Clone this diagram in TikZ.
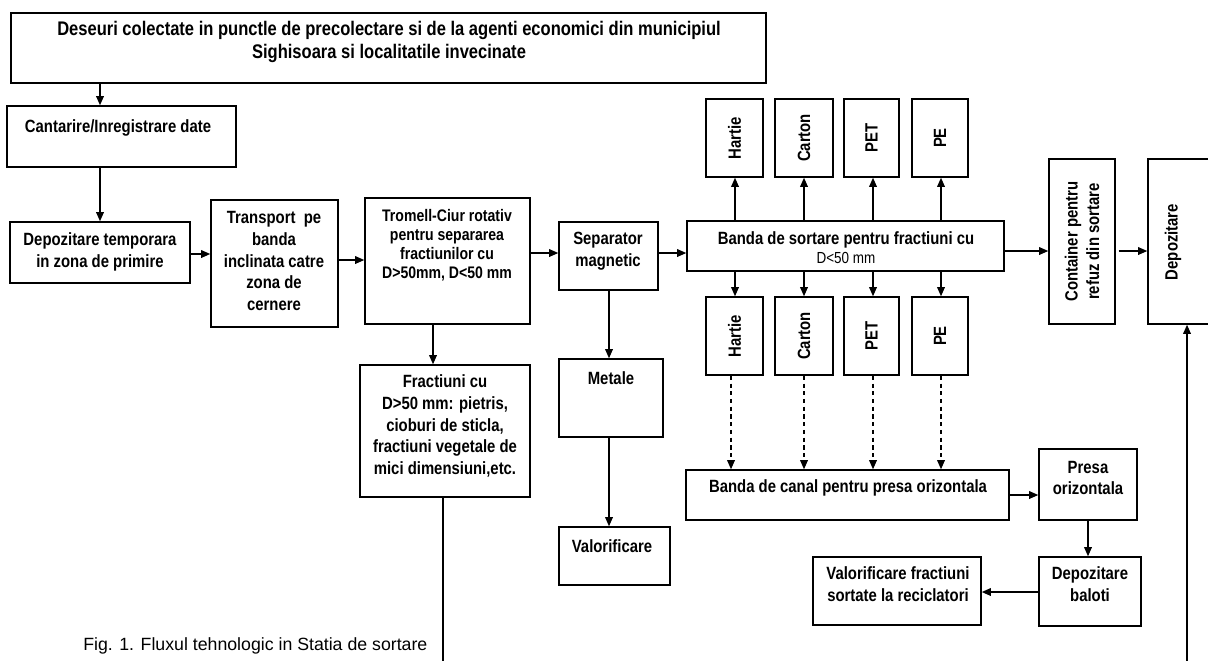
\documentclass[tikz,border=0pt]{standalone}
\usepackage{fontspec}
\setmainfont{Liberation Sans}
\newfontfamily\narrow{Liberation Sans}[FakeStretch=0.84]
\usetikzlibrary{arrows.meta,fit}

\tikzset{
  box/.style={draw, line width=1.1pt, inner sep=0pt},
  lbl/.style={font=\narrow\bfseries\fontsize{12.6}{15.4}\selectfont, align=center, inner sep=0pt},
  biglbl/.style={lbl, font=\narrow\bfseries\fontsize{14}{16.4}\selectfont},
  tightlbl/.style={lbl, font=\narrow\bfseries\fontsize{11.9}{13.6}\selectfont},
  small/.style={font=\narrow\fontsize{11.4}{13}\selectfont, inner sep=0pt},
  caption/.style={font=\fontsize{12.6}{15}\selectfont, inner sep=0pt, anchor=base west},
  line/.style={line width=0.9pt},
  arr/.style={line, -{Triangle[length=6.5pt,width=5.5pt]}},
  dsh/.style={arr, dash pattern=on 3pt off 2.5pt},
}

\begin{document}
\begin{tikzpicture}[x=0.025cm, y=-0.025cm]
\useasboundingbox (0,0) rectangle (1208,660);
\clip (0,0) rectangle (1208,660);

% ---- boxes ----
\node[box, fit={(11,13) (766,83)}] (top) {};
\node[box, fit={(7,106) (236,167)}] (cant) {};
\node[box, fit={(10,222) (190,283)}] (deptemp) {};
\node[box, fit={(211,200) (338,327)}] (transport) {};
\node[box, fit={(365,198) (530,324)}] (tromell) {};
\node[box, fit={(559,222) (658,290)}] (sep) {};
\node[box, fit={(687,221) (1004,271)}] (banda) {};
\node[box, fit={(360,365) (530,497)}] (fract) {};
\node[box, fit={(559,359) (663,437)}] (metale) {};
\node[box, fit={(559,527) (670,585)}] (valor) {};

\node[box, fit={(706,99) (763,177)}] (hu) {};
\node[box, fit={(775,99) (833,177)}] (cu) {};
\node[box, fit={(844,99) (899,177)}] (pu) {};
\node[box, fit={(912,99) (968,177)}] (eu) {};
\node[box, fit={(706,297) (763,375)}] (hd) {};
\node[box, fit={(775,297) (833,375)}] (cd) {};
\node[box, fit={(844,297) (899,375)}] (pd) {};
\node[box, fit={(912,297) (968,375)}] (ed) {};

\node[box, fit={(1049,159) (1115,324)}] (cont) {};
\node[box, fit={(1148,159) (1222,324)}] (dep) {};

\node[box, fit={(686,470) (1009,520)}] (canal) {};
\node[box, fit={(1039,449) (1137,520)}] (presa) {};
\node[box, fit={(1039,557) (1141,626)}] (depbal) {};
\node[box, fit={(813,557) (981,625)}] (valfr) {};

% ---- texts ----
\node[biglbl] (top-t) at (389,42) {Deseuri colectate in punctle de precolectare si de la agenti economici din municipiul\\Sighisoara si localitatile invecinate};
\node[lbl] (cant-t) at (118,128) {Cantarire/Inregistrare date};
\node[lbl] (deptemp-t) at (100,252) {Depozitare temporara\\in zona de primire};
\node[lbl] (transport-t) at (274,261) {Transport~~pe\\banda\\inclinata catre\\zona de\\cernere};
\node[tightlbl] (tromell-t) at (447,245) {Tromell-Ciur rotativ\\pentru separarea\\fractiunilor cu\\D>50mm, D<50 mm};
\node[lbl] (sep-t) at (608,251) {Separator\\magnetic};
\node[lbl] (banda-t) at (846,240) {Banda de sortare pentru fractiuni cu};
\node[small] (banda-t2) at (846,258) {D<50 mm};
\node[lbl] (fract-t) at (445,426) {Fractiuni cu\\D>50 mm: pietris,\\cioburi de sticla,\\fractiuni vegetale de\\mici dimensiuni,etc.};
\node[lbl] (metale-t) at (611,378) {Metale};
\node[lbl] (valor-t) at (612,546) {Valorificare};

\node[lbl, rotate=90] (hu-t) at (hu) {Hartie};
\node[lbl, rotate=90] (cu-t) at (cu) {Carton};
\node[lbl, rotate=90] (pu-t) at (pu) {PET};
\node[lbl, rotate=90] (eu-t) at (eu) {PE};
\node[lbl, rotate=90] (hd-t) at (hd) {Hartie};
\node[lbl, rotate=90] (cd-t) at (cd) {Carton};
\node[lbl, rotate=90] (pd-t) at (pd) {PET};
\node[lbl, rotate=90] (ed-t) at (ed) {PE};

\node[lbl, rotate=90] (cont-t) at (cont) {Container pentru\\refuz din sortare};
\node[lbl, rotate=90] (dep-t) at (1173,242) {Depozitare};

\node[lbl] (canal-t) at (848,488) {Banda de canal pentru presa orizontala};
\node[lbl] (presa-t) at (1088,478) {Presa\\orizontala};
\node[lbl] (depbal-t) at (1090,584) {Depozitare\\baloti};
\node[lbl] (valfr-t) at (898,584) {Valorificare fractiuni\\sortate la reciclatori};

\node[caption] (cap) at (83,650) {Fig. 1. Fluxul tehnologic in Statia de sortare};

% ---- reference positions for connectors ----
\coordinate (xa) at (100,0);
\coordinate (xb) at (433,0);
\coordinate (xc) at (609,0);
\coordinate (x1) at (735,0);
\coordinate (x2) at (804,0);
\coordinate (x3) at (873,0);
\coordinate (x4) at (941,0);
\coordinate (d1) at (731,0);
\coordinate (xd) at (1088,0);
\coordinate (ya) at (0,254);
\coordinate (yb) at (0,260);
\coordinate (yc) at (0,253);
\coordinate (ye) at (0,251);
\coordinate (yf) at (0,495);
\coordinate (yg) at (0,592);
\coordinate (endL) at (443,662);
\coordinate (endR) at (1187,662);

% ---- connectors ----
\draw[arr] (top.south -| xa) -- (cant.north -| xa);
\draw[arr] (cant.south -| xa) -- (deptemp.north -| xa);
\draw[arr] (deptemp.east |- ya) -- (transport.west |- ya);
\draw[arr] (transport.east |- yb) -- (tromell.west |- yb);
\draw[arr] (tromell.east |- yc) -- (sep.west |- yc);
\draw[arr] (sep.east |- yc) -- (banda.west |- yc);
\draw[arr] (tromell.south -| xb) -- (fract.north -| xb);
\draw[arr] (sep.south -| xc) -- (metale.north -| xc);
\draw[arr] (metale.south -| xc) -- (valor.north -| xc);
\draw[line] (fract.south -| endL) -- (endL);
\draw[arr] (endR) -- (dep.south -| endR);

\foreach \b/\u/\d in {x1/hu/hd, x2/cu/cd, x3/pu/pd, x4/eu/ed}{
  \draw[arr] (banda.north -| \b) -- (\u.south -| \b);
  \draw[arr] (banda.south -| \b) -- (\d.north -| \b);
}
\foreach \b/\d in {d1/hd, x2/cd, x3/pd, x4/ed}{
  \draw[dsh] (\d.south -| \b) -- (canal.north -| \b);
}

\draw[arr] (banda.east |- ye) -- (cont.west |- ye);
\draw[arr] ([xshift=2pt]cont.east |- ye) -- (dep.west |- ye);
\draw[arr] (canal.east |- yf) -- (presa.west |- yf);
\draw[arr] (presa.south -| xd) -- (depbal.north -| xd);
\draw[arr] (depbal.west |- yg) -- (valfr.east |- yg);
\end{tikzpicture}
\end{document}
